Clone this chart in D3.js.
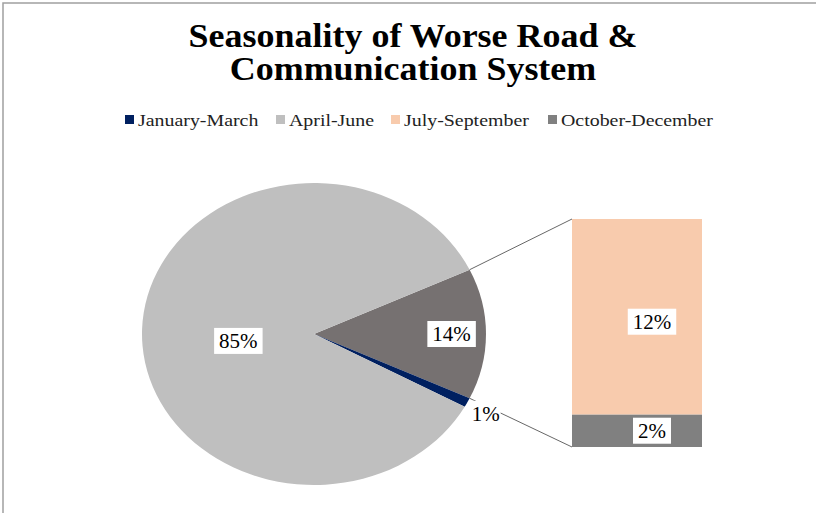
<html>
<head>
<meta charset="utf-8">
<script src="https://cdn.jsdelivr.net/npm/d3@7"></script>
</head>
<body style="margin:0">
<script>
// ---- Data ----
const titleLines = ["Seasonality of Worse Road &", "Communication System"];
const categories = ["January-March", "April-June", "July-September", "October-December"];
const values = [1, 85, 12, 2];
const colors = ["#002060", "#bfbfbf", "#f8cbad", "#808080"];
const pieCategories = ["Other", "January-March", "April-June"];   // pie slices, clockwise
const barCategories = ["October-December", "July-September"];     // bar stack, bottom to top
const otherColor = "#767171";

// ---- Layout ----
const W = 816, H = 513;
const cx = 314, cy = 334, rx = 172, ry = 151;
const barX0 = 572, barX1 = 702, barTop = 219, barBottom = 447;
const FONT = "Liberation Serif";

const svg = d3.select("body").append("svg").attr("width", W).attr("height", H)
  .style("display", "block");

// horizontally stretched text helper (the original picture is stretched)
function stext(parent, x, y, txt, size, sx, opts = {}) {
  const g = parent.append("g").attr("transform", `translate(${x},${y}) scale(${sx},1)`);
  const t = g.append("text").attr("x", 0).attr("y", 0)
    .attr("text-anchor", opts.anchor || "start")
    .attr("font-size", size)
    .attr("fill", opts.fill || "#000")
    .attr("font-family", FONT)
    .style("font-family", `"${FONT}"`)
    .text(txt);
  if (opts.bold) t.attr("font-weight", "bold");
  return {g, t};
}

// chart border
svg.append("path").attr("d", `M3,${H} L3,3 L${W},3`).attr("fill", "none")
  .attr("stroke", "#a0a0a0").attr("stroke-width", 1.5);

// title
titleLines.forEach((line, i) => stext(svg, 413, 47 + i * 33, line, 33, 1.09, {anchor: "middle", bold: true}));

// legend
const legendX = [125, 276, 391, 548];
categories.forEach((c, i) => {
  svg.append("rect").attr("x", legendX[i]).attr("y", 115).attr("width", 9).attr("height", 9)
    .attr("fill", colors[i]);
  stext(svg, legendX[i] + 13, 126, c, 17, 1.17, {fill: "#222"});
});

// values lookup
const val = Object.fromEntries(categories.map((c, i) => [c, values[i]]));
const col = Object.fromEntries(categories.map((c, i) => [c, colors[i]]));
const otherTotal = d3.sum(barCategories, c => val[c]);
const pieValues = pieCategories.map(c => c === "Other" ? otherTotal : val[c]);
const total = d3.sum(pieValues);

// ---- Pie (elliptical) ----
const span = otherTotal / total * 2 * Math.PI;
const start = Math.PI / 2 - span / 2;
const pie = d3.pie().sort(null).value(d => d.v).startAngle(start).endAngle(start + 2 * Math.PI);
const arcs = pie(pieCategories.map((c, i) => ({c, v: pieValues[i]})));
const arc = d3.arc().innerRadius(0).outerRadius(ry);
const sx = rx / ry;

svg.append("g").attr("transform", `translate(${cx},${cy}) scale(${sx},1)`)
  .selectAll("path").data(arcs).join("path")
  .attr("d", arc)
  .attr("fill", d => d.data.c === "Other" ? otherColor : col[d.data.c]);

const pt = (a, f) => [cx + f * rx * Math.sin(a), cy - f * ry * Math.cos(a)];

// ---- Bar ----
const y = d3.scaleLinear().domain([0, otherTotal]).range([barBottom, barTop]);
const stack = [];
let acc = 0;
barCategories.forEach(c => { stack.push({c, y0: acc, y1: acc + val[c]}); acc += val[c]; });

svg.append("g").selectAll("rect").data(stack).join("rect")
  .attr("x", barX0).attr("width", barX1 - barX0)
  .attr("y", d => y(d.y1)).attr("height", d => y(d.y0) - y(d.y1))
  .attr("fill", d => col[d.c]);

// connectors
const otherArc = arcs[0];
const pUp = pt(otherArc.startAngle, 1), pLo = pt(otherArc.endAngle, 1);
svg.append("g").attr("stroke", "#404040").attr("stroke-width", 0.8).attr("fill", "none")
  .selectAll("line").data([[pUp, [barX0, y(otherTotal)]], [pLo, [barX0, y(0)]]]).join("line")
  .attr("x1", d => d[0][0]).attr("y1", d => d[0][1])
  .attr("x2", d => d[1][0]).attr("y2", d => d[1][1]);

// ---- Labels ----
const LSX = 1.05;
function label(x, yy, txt, pad) {
  const {g, t} = stext(svg, x, yy + 7, txt, 20, LSX, {anchor: "middle"});
  const w = t.node().getComputedTextLength();
  g.insert("rect", "text").attr("x", -w / 2 - pad / LSX).attr("y", -20)
    .attr("width", w + 2 * pad / LSX).attr("height", 26).attr("fill", "#fff");
}
const fmt = v => Math.round(v / total * 100) + "%";
const labelFrac = {"Other": 0.8, "January-March": 1.12, "April-June": 0.44};
arcs.forEach(d => {
  const a = (d.startAngle + d.endAngle) / 2;
  const [lx, ly] = pt(a, labelFrac[d.data.c]);
  label(lx, ly + (d.data.c === "April-June" ? 9 : d.data.c === "January-March" ? 3 : 0),
        fmt(d.data.v), d.data.c === "January-March" ? 1 : 5);
});
stack.forEach(d => {
  const mid = (y(d.y0) + y(d.y1)) / 2;
  label((barX0 + barX1) / 2 + 15, mid + (d.c === "July-September" ? 5 : 0), fmt(val[d.c]), 5);
});
</script>
</body>
</html>
